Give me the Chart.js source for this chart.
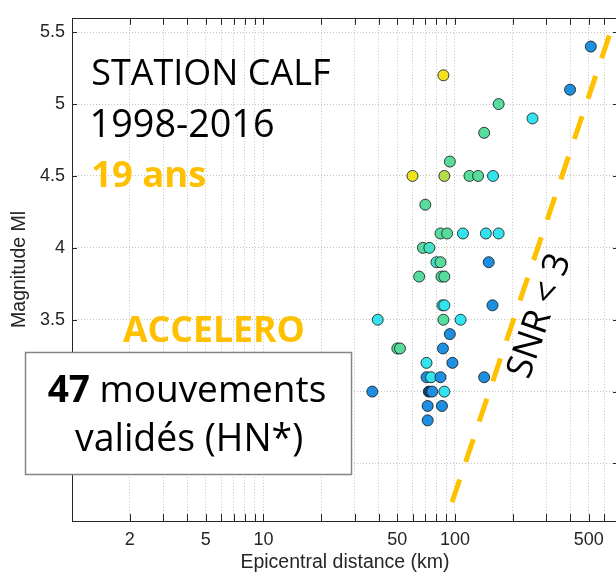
<!DOCTYPE html>
<html>
<head>
<meta charset="utf-8">
<script src="https://cdn.jsdelivr.net/npm/chart.js@4/dist/chart.umd.min.js"></script>
<style>
  html, body { margin: 0; padding: 0; background: #ffffff; overflow: hidden; }
  #wrap { width: 616px; height: 578px; overflow: hidden; position: relative; }
  canvas { display: block; }
</style>
</head>
<body>
<div id="wrap"><canvas id="c" width="630" height="578" style="width:630px;height:578px"></canvas></div>
<script>
// ---------------- DATA ----------------
const distanceKm = [512, 399, 87, 169, 254, 142, 94, 60, 88, 119, 132, 158, 70, 84, 91, 110, 145, 169,
  68, 73.5, 150, 80, 84, 65, 85, 88, 86, 88, 157, 39.5, 87, 107, 94, 50, 51.6, 86.5, 71, 97,
  71, 75, 84, 142, 37, 73, 76, 88, 72, 85.5, 72];
const magnitude = [5.4, 5.1, 5.2, 5.0, 4.9, 4.8, 4.6, 4.5, 4.5, 4.5, 4.5, 4.5, 4.3, 4.1, 4.1, 4.1, 4.1, 4.1,
  4.0, 4.0, 3.9, 3.9, 3.9, 3.8, 3.8, 3.8, 3.6, 3.6, 3.6, 3.5, 3.5, 3.5, 3.4, 3.3, 3.3, 3.3, 3.2, 3.2,
  3.1, 3.1, 3.1, 3.1, 3.0, 3.0, 3.0, 3.0, 2.9, 2.9, 2.8];
// colour class of each event (0 = yellow ... 6 = dark blue)
const colourClass = [5, 5, 0, 2, 4, 2, 2, 0, 1, 2, 2, 4, 2, 2, 2, 4, 4, 4,
  2, 3, 5, 3, 2, 2, 2, 2, 4, 4, 5, 4, 2, 4, 5, 2, 2, 5, 4, 5,
  5, 4, 5, 5, 5, 6, 5, 4, 5, 5, 5];
// SNR < 3 limit line (distance km, magnitude)
const snrLineX = [96.5, 667];
const snrLineY = [2.23, 5.55];
// axes
const xTicks = [2, 3, 4, 5, 6, 7, 8, 9, 10, 20, 30, 40, 50, 60, 70, 80, 90, 100, 200, 300, 400, 500, 600, 700];
const xTickLabels = [2, 5, 10, 50, 100, 500];
const yTicks = [2.5, 3, 3.5, 4, 4.5, 5, 5.5];
const xRange = [1, 710];
const yRange = [2.1, 5.6];

// ---------------- STYLE ----------------
const palette = ['#f2e21e', '#b6dc4c', '#58dc9c', '#46e0c6', '#33e3ee', '#1e8fe0', '#173d6a'];
const ORANGE = '#FFC000';
const AXIS = '#262626';
const TXT = "'Open Sans', 'Noto Sans', sans-serif";

const points = distanceKm.map((d, i) => ({ x: d, y: magnitude[i] }));
const pointColours = colourClass.map(c => palette[c]);
const linePts = snrLineX.map((x, i) => ({ x: x, y: snrLineY[i] }));

function fitText(ctx, parts, x, baseline, targetW, color) {
  const base = 100;
  let w = 0;
  parts.forEach((p, i) => {
    ctx.font = `${p.w} ${base}px ${TXT}`;
    const m = ctx.measureText(p.t);
    p.adv = m.width;
    if (i === 0) p.lb = m.actualBoundingBoxLeft;
    if (i === parts.length - 1) p.rb = m.actualBoundingBoxRight;
  });
  // visual width: from ink-left of first to ink-right of last
  let acc = 0;
  parts.forEach((p, i) => { if (i < parts.length - 1) acc += p.adv; });
  w = parts[0].lb + acc + parts[parts.length - 1].rb;
  const s = targetW / w;
  let cx = x + parts[0].lb * s;
  ctx.fillStyle = color;
  ctx.textAlign = 'left';
  ctx.textBaseline = 'alphabetic';
  parts.forEach(p => {
    ctx.font = `${p.w} ${base * s}px ${TXT}`;
    ctx.fillText(p.t, cx, baseline);
    cx += p.adv * s;
  });
}

const framePlugin = {
  id: 'frame',
  afterDatasetsDraw(chart) {
    const { ctx, chartArea: a, scales } = chart;
    ctx.save();
    ctx.strokeStyle = AXIS;
    ctx.lineWidth = 1;
    ctx.beginPath();
    xTicks.forEach(v => {
      const px = Math.round(scales.x.getPixelForValue(v)) + 0.5;
      ctx.moveTo(px, a.bottom); ctx.lineTo(px, a.bottom - 7);
      ctx.moveTo(px, a.top); ctx.lineTo(px, a.top + 7);
    });
    yTicks.forEach(v => {
      const py = Math.round(scales.y.getPixelForValue(v)) + 0.5;
      ctx.moveTo(a.left, py); ctx.lineTo(a.left + 5, py);
      ctx.moveTo(a.right, py); ctx.lineTo(a.right - 5, py);
    });
    ctx.stroke();
    ctx.strokeRect(Math.round(a.left) + 0.5, Math.round(a.top) + 0.5, Math.round(a.right - a.left), Math.round(a.bottom - a.top));
    ctx.restore();
  },
  afterDraw(chart) {
    const ctx = chart.ctx;
    ctx.save();
    fitText(ctx, [{ t: 'STATION CALF', w: 'normal' }], 93, 85, 237, '#000');
    fitText(ctx, [{ t: '1998-2016', w: 'normal' }], 93, 137, 180, '#000');
    fitText(ctx, [{ t: '19 ans', w: 'bold' }], 93, 187, 112, ORANGE);
    fitText(ctx, [{ t: 'ACCELERO', w: 'bold' }], 123, 342, 180, ORANGE);
    // box
    ctx.fillStyle = '#ffffff';
    ctx.fillRect(25, 352, 327, 123);
    ctx.strokeStyle = '#858585';
    ctx.lineWidth = 1.5;
    ctx.strokeRect(25.5, 352.5, 326, 122);
    fitText(ctx, [{ t: '47', w: 'bold' }, { t: ' mouvements', w: 'normal' }], 48, 402, 277, '#000');
    fitText(ctx, [{ t: 'validés (HN*)', w: 'normal' }], 75, 451, 227, '#000');
    // SNR < 3 rotated label
    ctx.translate(540, 316);
    ctx.rotate(-71 * Math.PI / 180);
    ctx.font = `normal 36px ${TXT}`;
    ctx.fillStyle = '#000';
    ctx.textAlign = 'center';
    ctx.textBaseline = 'middle';
    ctx.fillText('SNR < 3', 0, 0);
    ctx.restore();
  }
};

new Chart(document.getElementById('c'), {
  type: 'scatter',
  data: {
    datasets: [
      {
        type: 'line',
        data: linePts,
        borderColor: ORANGE,
        borderWidth: 5,
        borderDash: [24, 18.6],
        pointRadius: 0,
        fill: false,
        order: 0
      },
      {
        data: points,
        backgroundColor: pointColours,
        borderColor: 'rgba(20,30,30,0.85)',
        borderWidth: 1,
        pointRadius: 5.5,
        pointHoverRadius: 5.5,
        order: 1
      }
    ]
  },
  options: {
    responsive: false,
    animation: false,
    devicePixelRatio: 1,
    layout: { padding: { top: 6, right: 12, left: 0, bottom: 0 } },
    plugins: { legend: { display: false }, tooltip: { enabled: false } },
    scales: {
      x: {
        type: 'logarithmic',
        min: xRange[0],
        max: xRange[1],
        afterFit(s) { s.height = 57; },
        afterBuildTicks(s) { s.ticks = xTicks.map(v => ({ value: v })); },
        grid: { color: '#c4c4c4', lineWidth: 1, drawTicks: false },
        border: { display: false, dash: [1, 2] },
        ticks: {
          autoSkip: false, maxRotation: 0, minRotation: 0, padding: 8,
          color: AXIS,
          font: { family: "'Liberation Sans', Arial, sans-serif", size: 18 },
          callback: v => xTickLabels.includes(v) ? String(v) : ''
        },
        title: {
          display: true, text: 'Epicentral distance (km)', color: AXIS,
          font: { family: "'Liberation Sans', Arial, sans-serif", size: 19.5 },
          padding: { top: 0, bottom: 4 }
        }
      },
      y: {
        type: 'linear',
        min: yRange[0],
        max: yRange[1],
        afterFit(s) { s.width = 72; },
        afterBuildTicks(s) { s.ticks = yTicks.map(v => ({ value: v })); },
        grid: { color: '#c4c4c4', lineWidth: 1, drawTicks: false },
        border: { display: false, dash: [1, 2] },
        ticks: {
          padding: 7, color: AXIS,
          font: { family: "'Liberation Sans', Arial, sans-serif", size: 18 },
          callback: v => String(v)
        },
        title: {
          display: true, text: 'Magnitude Ml', color: AXIS,
          font: { family: "'Liberation Sans', Arial, sans-serif", size: 19.5 },
          padding: { top: 8, bottom: 0 }
        }
      }
    }
  },
  plugins: [framePlugin]
});
</script>
</body>
</html>
